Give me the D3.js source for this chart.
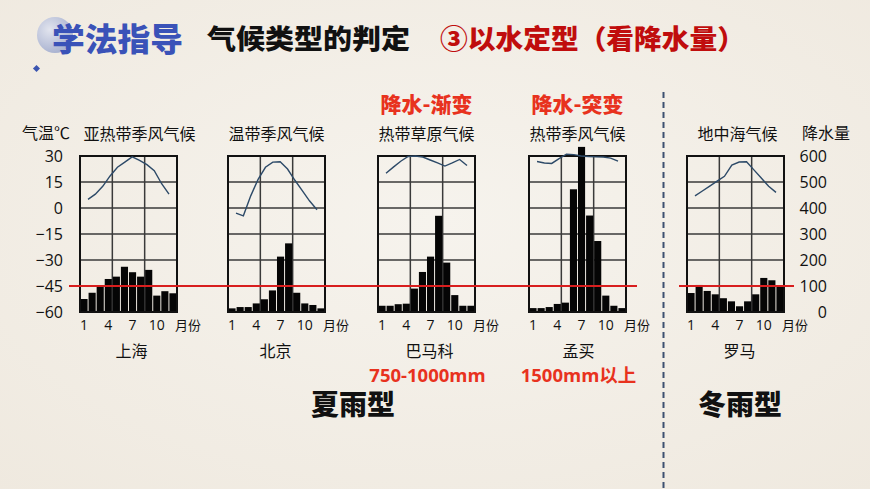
<!DOCTYPE html>
<html><head><meta charset="utf-8">
<script src="https://cdn.jsdelivr.net/npm/d3@7/dist/d3.min.js"></script>
<style>
html,body{margin:0;padding:0;background:#f4f0e9;}
svg{display:block;font-family:"Open Sans","Noto Sans CJK SC",sans-serif;}
.cjk{font-family:"Noto Sans CJK SC","Open Sans",sans-serif;}
</style></head>
<body>
<svg id="c" width="870" height="489"></svg>
<script>
// ---- data ----
const months = [1,2,3,4,5,6,7,8,9,10,11,12];
const monthTicks = [1,4,7,10];
const tempTicks = [30,15,0,-15,-30,-45,-60];
const precipTicks = [600,500,400,300,200,100,0];
const climates = ["亚热带季风气候","温带季风气候","热带草原气候","热带季风气候","地中海气候"];
const cities = ["上海","北京","巴马科","孟买","罗马"];
const tempShanghai = [5,8,12.5,18.5,23.5,26.5,29.5,27.5,25,21.5,14,8];
const precipShanghai = [50,74,97,127,136,174,153,136,162,63,80,72];
const tempBeijing = [-3,-4.5,7,16.5,23.5,26.5,26.7,22.5,16,10,4,-1];
const precipBeijing = [14,19,19,33,49,83,213,264,74,33,27,14];
const tempBamako = [20,23.6,27,29.7,30,29.4,27.7,26,24.2,26,28,24.5];
const precipBamako = [24,24,30,32,90,154,213,370,190,65,24,24];
const tempMumbai = [26.8,26,25.7,28.5,31,30.8,30,29.7,29.5,29.4,28.8,27.1];
const precipMumbai = [15,15,19,31,36,472,635,371,273,63,24,15];
const tempRome = [7,9.8,12.6,15.5,18.3,24.8,26.5,26.7,22,17.3,12.5,9];
const precipRome = [73,104,81,68,53,41,22,41,68,131,122,100];
const changeLabels = [null,null,"降水-渐变","降水-突变",null];
const rangeLabels = [null,null,"750-1000mm","1500mm以上",null];
const typeLabels = ["夏雨型","冬雨型"];
const redLineValue = 100;

const temps = [tempShanghai,tempBeijing,tempBamako,tempMumbai,tempRome];
const precips = [precipShanghai,precipBeijing,precipBamako,precipMumbai,precipRome];

// ---- layout ----
const svg = d3.select("#c");
const boxLeft = [80,228,378,529,687];
const boxW = 97, plotTop = 156, plotBottom = 312;
const titleDx = [11,0,0,0,2];
const cityDx = [3,-1,3,1,4];

// background texture
const defs = svg.append("defs");
const rg = defs.append("radialGradient").attr("id","bg").attr("cx","50%").attr("cy","45%").attr("r","75%");
rg.append("stop").attr("offset","0%").attr("stop-color","#f6f3ed");
rg.append("stop").attr("offset","100%").attr("stop-color","#efe9df");
const cg = defs.append("radialGradient").attr("id","circ").attr("cx","35%").attr("cy","35%").attr("r","70%");
cg.append("stop").attr("offset","0%").attr("stop-color","#dfe3f0");
cg.append("stop").attr("offset","100%").attr("stop-color","#9aa6cc");
svg.append("rect").attr("width",870).attr("height",489).attr("fill","url(#bg)");

// header
svg.append("circle").attr("cx",55).attr("cy",35).attr("r",18).attr("fill","url(#circ)").attr("opacity",0.85);
svg.append("rect").attr("x",34).attr("y",66).attr("width",5).attr("height",5)
  .attr("transform","rotate(45 36.5 68.5)").attr("fill","#3b55b0");
svg.append("text").attr("class","cjk").attr("x",52).attr("y",51).attr("font-size",32).attr("font-weight",900)
  .attr("fill","#3a52b8").attr("textLength",131).attr("lengthAdjust","spacingAndGlyphs").text("学法指导");
svg.append("text").attr("class","cjk").attr("x",207).attr("y",49).attr("font-size",27).attr("font-weight",900)
  .attr("fill","#111").attr("textLength",203).attr("lengthAdjust","spacingAndGlyphs").text("气候类型的判定");
svg.append("text").attr("class","cjk").attr("x",440).attr("y",49).attr("font-size",27).attr("font-weight",900)
  .attr("fill","#c00d0d").attr("textLength",305).attr("lengthAdjust","spacingAndGlyphs").text("③以水定型（看降水量）");

// scales
const yT = d3.scaleLinear().domain([-60,30]).range([plotBottom,plotTop]);
const yP = d3.scaleLinear().domain([0,600]).range([plotBottom,plotTop]);

// left & right axis labels
svg.append("text").attr("class","cjk").attr("x",22).attr("y",139).attr("font-size",16).attr("fill","#111").text("气温℃");
svg.append("text").attr("class","cjk").attr("x",802).attr("y",139).attr("font-size",16).attr("fill","#111").text("降水量");

const axL = d3.axisLeft(yT).tickValues(tempTicks).tickSize(0).tickPadding(0);
const gL = svg.append("g").attr("transform","translate(63,0)").call(axL);
gL.select(".domain").remove();
gL.selectAll("text").attr("font-size",16).attr("fill","#111").attr("font-family","Open Sans").attr("dy","0.35em");

const axR = d3.axisRight(yP).tickValues(precipTicks).tickSize(0).tickPadding(0);
const gR = svg.append("g").attr("transform","translate(827,0)").call(axR);
gR.select(".domain").remove();
gR.selectAll("text").attr("font-size",16).attr("fill","#111").attr("font-family","Open Sans").attr("text-anchor","end").attr("dy","0.35em");

// charts
climates.forEach((name,i)=>{
  const x0 = boxLeft[i], x1 = x0+boxW;
  const g = svg.append("g");
  const xB = d3.scaleBand().domain(months).range([x0,x1]).paddingInner(0.12).paddingOuter(0.06);
  const xL = d3.scaleLinear().domain([1,12]).range([x0+8,x1-8]);
  // grid
  g.selectAll(".h").data(tempTicks.slice(1,-1)).join("line")
    .attr("x1",x0).attr("x2",x1).attr("y1",d=>yT(d)).attr("y2",d=>yT(d))
    .attr("stroke","#3a3a3a").attr("stroke-width",1.5);
  g.selectAll(".v").data([4.5,8.5]).join("line")
    .attr("x1",d=>x0+boxW*(d-0.5)/12).attr("x2",d=>x0+boxW*(d-0.5)/12).attr("y1",plotTop).attr("y2",plotBottom)
    .attr("stroke","#3a3a3a").attr("stroke-width",1.5);
  // bars
  g.selectAll(".bar").data(precips[i]).join("rect")
    .attr("x",(d,j)=>xB(months[j])).attr("width",xB.bandwidth())
    .attr("y",d=>yP(d)).attr("height",d=>plotBottom-yP(d)).attr("fill","#050505");
  // box
  g.append("rect").attr("x",x0).attr("y",plotTop).attr("width",boxW).attr("height",plotBottom-plotTop)
    .attr("fill","none").attr("stroke","#111").attr("stroke-width",2);
  // temperature line
  g.append("path").datum(temps[i])
    .attr("d",d3.line().x((d,j)=>xL(months[j])).y(d=>yT(d)))
    .attr("fill","none").attr("stroke","#2d4a68").attr("stroke-width",1.4);
  // month labels
  g.selectAll(".mt").data(monthTicks).join("text")
    .attr("x",d=>xB(d)+xB.bandwidth()/2).attr("y",330).attr("text-anchor","middle")
    .attr("font-size",14).attr("fill","#111").text(d=>d);
  g.append("text").attr("class","cjk").attr("x",x1-2).attr("y",330).attr("font-size",13).attr("fill","#111").text("月份");
  // title
  g.append("text").attr("class","cjk").attr("x",(x0+x1)/2+titleDx[i]).attr("y",140).attr("text-anchor","middle")
    .attr("font-size",16).attr("fill","#111").text(name);
  // city
  g.append("text").attr("class","cjk").attr("x",(x0+x1)/2+cityDx[i]).attr("y",357).attr("text-anchor","middle")
    .attr("font-size",16).attr("fill","#111").text(cities[i]);
  if(changeLabels[i]){
    g.append("text").attr("class","cjk").attr("x",(x0+x1)/2).attr("y",112).attr("text-anchor","middle")
      .attr("font-size",21).attr("font-weight",900).attr("fill","#e8321e").text(changeLabels[i]);
  }
  if(rangeLabels[i]){
    g.append("text").attr("x",(x0+x1)/2+1).attr("y",382).attr("text-anchor","middle")
      .attr("font-size",18.5).attr("font-weight",700).attr("fill","#e8321e").text(rangeLabels[i]);
  }
});

// red reference lines
svg.append("line").attr("x1",69).attr("x2",637).attr("y1",yP(redLineValue)).attr("y2",yP(redLineValue))
  .attr("stroke","#d81e1e").attr("stroke-width",1.8);
svg.append("line").attr("x1",679).attr("x2",794).attr("y1",yP(redLineValue)).attr("y2",yP(redLineValue))
  .attr("stroke","#d81e1e").attr("stroke-width",1.8);

// divider
svg.append("line").attr("x1",663.5).attr("x2",663.5).attr("y1",92).attr("y2",489)
  .attr("stroke","#3d5070").attr("stroke-width",2).attr("stroke-dasharray","6,4");

// type labels
svg.append("text").attr("class","cjk").attr("x",353).attr("y",415).attr("text-anchor","middle")
  .attr("font-size",28).attr("font-weight",900).attr("fill","#111").text(typeLabels[0]);
svg.append("text").attr("class","cjk").attr("x",740).attr("y",415).attr("text-anchor","middle")
  .attr("font-size",28).attr("font-weight",900).attr("fill","#111").text(typeLabels[1]);
</script>
</body></html>
